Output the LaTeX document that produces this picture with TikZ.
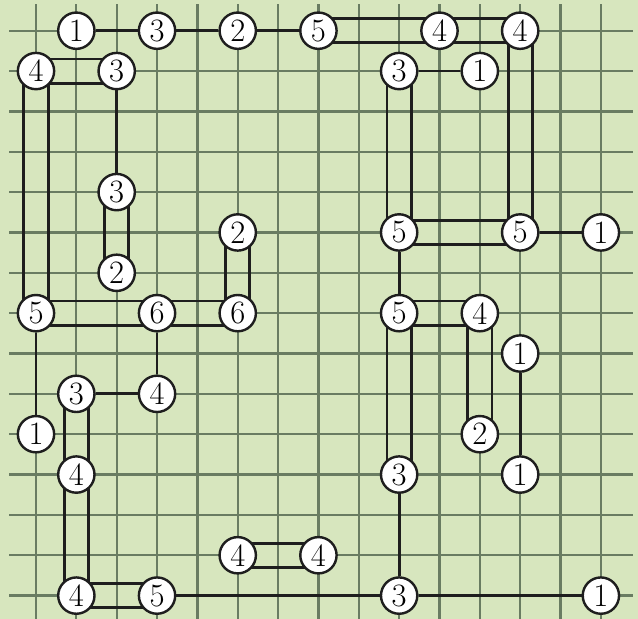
\documentclass[tikz,border=0pt]{standalone}
\usepackage{tikz}
\usetikzlibrary{backgrounds}

\definecolor{paper}{RGB}{215,230,190}
\definecolor{gridgreen}{RGB}{105,124,98}
\definecolor{ink}{RGB}{30,30,30}

\pgfdeclarelayer{back}
\pgfdeclarelayer{mid}
\pgfsetlayers{back,mid,main}

% double bridges, across and down
\def\acrosspairs{r0c7/r0c10, r0c10/r0c12, r1c0/r1c2, r5c9/r5c12, r7c0/r7c3,
                 r7c3/r7c5, r7c9/r7c11, r13c5/r13c7, r14c1/r14c3}
\def\downpairs{r0c12/r5c12, r1c0/r7c0, r1c9/r5c9, r4c2/r6c2, r5c5/r7c5,
               r7c9/r11c9, r7c11/r10c11, r9c1/r11c1, r11c1/r14c1}

\begin{document}
\begin{tikzpicture}[
  gridline/.style={draw=gridgreen, line width=1.6pt},
  isle/.style={draw=ink, circle, fill=white, line width=1.7pt, minimum size=0.9cm,
               inner sep=0pt, font=\fontsize{23}{23}\selectfont},
  bridge/.style={draw=ink, line width=2pt},
]

\useasboundingbox (-0.892,0.761) rectangle (14.92,-14.58);

% ===== Islands =====
\node[isle] (r0c1) at (1,0) {1};
\node[isle] (r0c3) at (3,0) {3};
\node[isle] (r0c5) at (5,0) {2};
\node[isle] (r0c7) at (7,0) {5};
\node[isle] (r0c10) at (10,0) {4};
\node[isle] (r0c12) at (12,0) {4};

\node[isle] (r1c0) at (0,-1) {4};
\node[isle] (r1c2) at (2,-1) {3};
\node[isle] (r1c9) at (9,-1) {3};
\node[isle] (r1c11) at (11,-1) {1};

\node[isle] (r4c2) at (2,-4) {3};

\node[isle] (r5c5) at (5,-5) {2};
\node[isle] (r5c9) at (9,-5) {5};
\node[isle] (r5c12) at (12,-5) {5};
\node[isle] (r5c14) at (14,-5) {1};

\node[isle] (r6c2) at (2,-6) {2};

\node[isle] (r7c0) at (0,-7) {5};
\node[isle] (r7c3) at (3,-7) {6};
\node[isle] (r7c5) at (5,-7) {6};
\node[isle] (r7c9) at (9,-7) {5};
\node[isle] (r7c11) at (11,-7) {4};

\node[isle] (r8c12) at (12,-8) {1};

\node[isle] (r9c1) at (1,-9) {3};
\node[isle] (r9c3) at (3,-9) {4};

\node[isle] (r10c0) at (0,-10) {1};
\node[isle] (r10c11) at (11,-10) {2};

\node[isle] (r11c1) at (1,-11) {4};
\node[isle] (r11c9) at (9,-11) {3};
\node[isle] (r11c12) at (12,-11) {1};

\node[isle] (r13c5) at (5,-13) {4};
\node[isle] (r13c7) at (7,-13) {4};

\node[isle] (r14c1) at (1,-14) {4};
\node[isle] (r14c3) at (3,-14) {5};
\node[isle] (r14c9) at (9,-14) {3};
\node[isle] (r14c14) at (14,-14) {1};

% ===== Paper and grid (hidden between double bridges) =====
\begin{pgfonlayer}{back}
\fill[paper] (-0.892,0.761) rectangle (14.92,-14.58);
\begin{scope}[even odd rule]
  \clip (-1,1) rectangle (15,-15)
    foreach \a/\b in \downpairs {([xshift=-2.4mm]\a.center) rectangle ([xshift=2.4mm]\b.center)};
  \foreach \c in {0,...,14}
    \draw[gridline] (\c,0.66) -- (\c,-14.58);
\end{scope}
\begin{scope}[even odd rule]
  \clip (-1,1) rectangle (15,-15)
    foreach \a/\b in \acrosspairs {([yshift=2.4mm]\a.center) rectangle ([yshift=-2.4mm]\b.center)};
  \foreach \r in {0,...,14}
    \draw[gridline] (-0.66,-\r) -- (14.8,-\r);
\end{scope}
\end{pgfonlayer}

% ===== Bridges =====
\begin{pgfonlayer}{mid}
% single bridges
\foreach \a/\b in {r0c1/r0c3, r0c3/r0c5, r0c5/r0c7, r1c9/r1c11, r1c2/r4c2,
                   r5c12/r5c14, r5c9/r7c9, r7c0/r10c0, r7c3/r9c3, r9c1/r9c3,
                   r8c12/r11c12, r11c9/r14c9, r14c3/r14c9, r14c9/r14c14}
  \draw[bridge] (\a) -- (\b);
% double bridges
\foreach \a/\b in \acrosspairs
  \draw[bridge] ([yshift=3mm]\a.center) -- ([yshift=3mm]\b.center)
                ([yshift=-3mm]\a.center) -- ([yshift=-3mm]\b.center);
\foreach \a/\b in \downpairs
  \draw[bridge] ([xshift=-3mm]\a.center) -- ([xshift=-3mm]\b.center)
                ([xshift=3mm]\a.center) -- ([xshift=3mm]\b.center);
\end{pgfonlayer}

\end{tikzpicture}
\end{document}
